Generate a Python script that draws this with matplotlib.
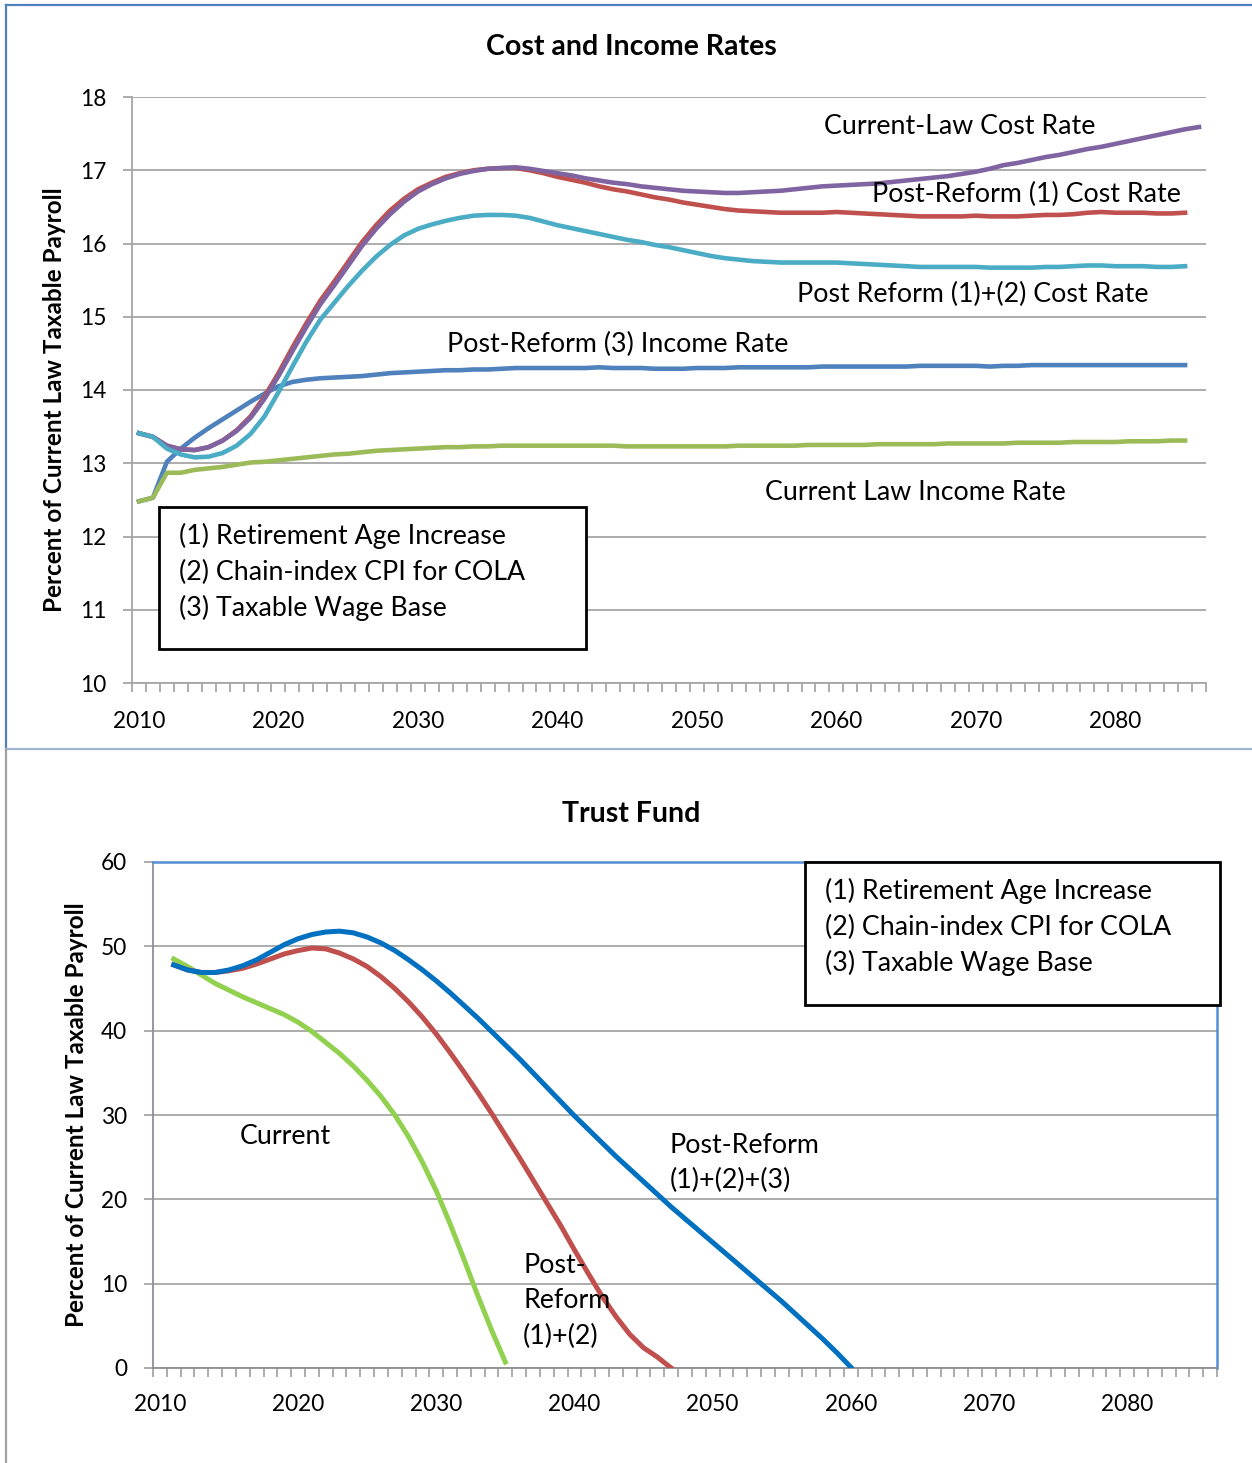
import matplotlib
matplotlib.use("Agg")
import matplotlib.pyplot as plt
from matplotlib.lines import Line2D
from matplotlib.patches import Rectangle

W, H = 1252, 1463
plt.rcParams["font.family"] = ["Lato", "DejaVu Sans"]

# ---- top chart: cost and income rates (percent of taxable payroll) ----
top_years = list(range(2010, 2087))
current_law_cost = [
    13.41, 13.36, 13.24, 13.19, 13.18, 13.22, 13.31, 13.44, 13.62, 13.88,
    14.19, 14.53, 14.86, 15.17, 15.43, 15.70, 15.97, 16.20, 16.40, 16.57,
    16.71, 16.81, 16.89, 16.95, 16.99, 17.02, 17.03, 17.04, 17.02, 16.99,
    16.96, 16.93, 16.89, 16.86, 16.83, 16.81, 16.78, 16.76, 16.74, 16.72,
    16.71, 16.70, 16.69, 16.69, 16.70, 16.71, 16.72, 16.74, 16.76, 16.78,
    16.79, 16.80, 16.81, 16.82, 16.84, 16.86, 16.88, 16.90, 16.92, 16.95,
    16.98, 17.02, 17.07, 17.10, 17.14, 17.18, 17.21, 17.25, 17.29, 17.32,
    17.36, 17.40, 17.44, 17.48, 17.52, 17.56, 17.59,
]
reform1_cost = [
    13.41, 13.36, 13.24, 13.19, 13.18, 13.22, 13.31, 13.45, 13.64, 13.91,
    14.23, 14.58, 14.91, 15.22, 15.48, 15.75, 16.02, 16.25, 16.45, 16.61,
    16.74, 16.83, 16.91, 16.96, 17.00, 17.02, 17.03, 17.03, 17.00, 16.96,
    16.91, 16.87, 16.83, 16.78, 16.74, 16.71, 16.67, 16.63, 16.60, 16.56,
    16.53, 16.50, 16.47, 16.45, 16.44, 16.43, 16.42, 16.42, 16.42, 16.42,
    16.43, 16.42, 16.41, 16.40, 16.39, 16.38, 16.37, 16.37, 16.37, 16.37,
    16.38, 16.37, 16.37, 16.37, 16.38, 16.39, 16.39, 16.40, 16.42, 16.43,
    16.42, 16.42, 16.42, 16.41, 16.41, 16.42,
]
reform12_cost = [
    13.41, 13.36, 13.20, 13.12, 13.08, 13.09, 13.14, 13.24, 13.40, 13.64,
    13.97, 14.32, 14.66, 14.96, 15.19, 15.42, 15.63, 15.82, 15.98, 16.11,
    16.20, 16.26, 16.31, 16.35, 16.38, 16.39, 16.39, 16.38, 16.35, 16.30,
    16.25, 16.21, 16.17, 16.13, 16.09, 16.05, 16.02, 15.98, 15.95, 15.91,
    15.87, 15.83, 15.80, 15.78, 15.76, 15.75, 15.74, 15.74, 15.74, 15.74,
    15.74, 15.73, 15.72, 15.71, 15.70, 15.69, 15.68, 15.68, 15.68, 15.68,
    15.68, 15.67, 15.67, 15.67, 15.67, 15.68, 15.68, 15.69, 15.70, 15.70,
    15.69, 15.69, 15.69, 15.68, 15.68, 15.69,
]
reform3_income = [
    12.48, 12.53, 13.02, 13.20, 13.35, 13.48, 13.60, 13.72, 13.84, 13.95,
    14.05, 14.11, 14.14, 14.16, 14.17, 14.18, 14.19, 14.21, 14.23, 14.24,
    14.25, 14.26, 14.27, 14.27, 14.28, 14.28, 14.29, 14.30, 14.30, 14.30,
    14.30, 14.30, 14.30, 14.31, 14.30, 14.30, 14.30, 14.29, 14.29, 14.29,
    14.30, 14.30, 14.30, 14.31, 14.31, 14.31, 14.31, 14.31, 14.31, 14.32,
    14.32, 14.32, 14.32, 14.32, 14.32, 14.32, 14.33, 14.33, 14.33, 14.33,
    14.33, 14.32, 14.33, 14.33, 14.34, 14.34, 14.34, 14.34, 14.34, 14.34,
    14.34, 14.34, 14.34, 14.34, 14.34, 14.34,
]
current_law_income = [
    12.48, 12.53, 12.87, 12.87, 12.91, 12.93, 12.95, 12.98, 13.01, 13.02,
    13.04, 13.06, 13.08, 13.10, 13.12, 13.13, 13.15, 13.17, 13.18, 13.19,
    13.20, 13.21, 13.22, 13.22, 13.23, 13.23, 13.24, 13.24, 13.24, 13.24,
    13.24, 13.24, 13.24, 13.24, 13.24, 13.23, 13.23, 13.23, 13.23, 13.23,
    13.23, 13.23, 13.23, 13.24, 13.24, 13.24, 13.24, 13.24, 13.25, 13.25,
    13.25, 13.25, 13.25, 13.26, 13.26, 13.26, 13.26, 13.26, 13.27, 13.27,
    13.27, 13.27, 13.27, 13.28, 13.28, 13.28, 13.28, 13.29, 13.29, 13.29,
    13.29, 13.30, 13.30, 13.30, 13.31, 13.31,
]

# ---- bottom chart: trust fund ratio, all series start in 2011 ----
fund_start = 2011
fund_current = [
    48.5, 47.6, 46.6, 45.6, 44.8, 44.0, 43.3, 42.6, 41.9, 41.0,
    39.9, 38.6, 37.3, 35.8, 34.1, 32.2, 30.0, 27.4, 24.4, 21.0,
    17.1, 12.9, 8.6, 4.5, 0.7,
]
fund_reform12 = [
    47.8, 47.2, 46.9, 46.9, 47.1, 47.4, 47.9, 48.5, 49.1, 49.5,
    49.8, 49.7, 49.2, 48.5, 47.6, 46.4, 45.0, 43.4, 41.6, 39.6,
    37.4, 35.1, 32.7, 30.2, 27.6, 25.0, 22.3, 19.6, 16.9, 14.0,
    11.2, 8.5, 6.1, 4.0, 2.4, 1.3, 0.0,
]
fund_reform123 = [
    47.8, 47.2, 46.9, 46.9, 47.2, 47.7, 48.4, 49.3, 50.2, 50.9,
    51.4, 51.7, 51.8, 51.6, 51.1, 50.4, 49.5, 48.4, 47.2, 45.9,
    44.5, 43.0, 41.5, 39.9, 38.3, 36.7, 35.0, 33.3, 31.6, 29.9,
    28.3, 26.7, 25.1, 23.6, 22.1, 20.6, 19.1, 17.7, 16.3, 14.9,
    13.5, 12.1, 10.7, 9.3, 7.9, 6.4, 4.9, 3.4, 1.8, 0.1,
]

key_lines = ["(1) Retirement Age Increase", "(2) Chain-index CPI for COLA", "(3) Taxable Wage Base"]
label_years = list(range(2010, 2081, 10))

GRID = "#a6a6a6"
AXIS = "#8c9099"
FS = 19.3      # annotation / key text
TICK_FS = 16.3


def fx(x):
    return x / W


def fy(y):
    return 1 - y / H


def axes_px(fig, left, top, right, bottom):
    return fig.add_axes([fx(left), fy(bottom), fx(right) - fx(left), fy(top) - fy(bottom)])


def style_axis(ax, ymin, ymax, ystep, xpad):
    ax.set_xlim(2009.5, 2086.5)
    ax.set_ylim(ymin, ymax)
    ax.set_yticks(range(ymin, ymax + 1, ystep))
    ax.set_xticks(label_years)
    ax.set_xticks([y + 0.5 for y in range(2009, 2087)], minor=True)
    ax.tick_params(axis="x", which="major", length=0, labelsize=TICK_FS, pad=xpad)
    ax.tick_params(axis="x", which="minor", length=6.5, width=1.3, color=GRID, direction="out")
    ax.tick_params(axis="y", length=6.5, width=1.3, color=GRID, labelsize=TICK_FS, pad=12)
    ax.grid(axis="y", color=GRID, lw=1.3)
    ax.set_axisbelow(True)
    for s in ("top", "right"):
        ax.spines[s].set_visible(False)
    ax.spines["left"].set_color(GRID)
    ax.spines["bottom"].set_color(GRID)
    ax.spines["left"].set_linewidth(1.3)
    ax.spines["bottom"].set_linewidth(1.3)


def key_box(fig, left, top, right, bottom, text_x, first_y):
    fig.add_artist(Rectangle((fx(left), fy(bottom)), fx(right) - fx(left), fy(top) - fy(bottom),
                             transform=fig.transFigure, facecolor="white", edgecolor="black",
                             lw=2, zorder=5))
    for i, line in enumerate(key_lines):
        fig.text(fx(text_x), fy(first_y + 36 * i), line, fontsize=FS, va="center", ha="left", zorder=6)


fig = plt.figure(figsize=(W / 100, H / 100), dpi=100)

# page frame lines
blue_frame = "#4f81bd"
fig.add_artist(Line2D([fx(6), fx(6)], [fy(5), fy(749)], color=blue_frame, lw=1.6))
fig.add_artist(Line2D([fx(6), fx(1252)], [fy(5), fy(5)], color=blue_frame, lw=1.6))
fig.add_artist(Line2D([fx(6), fx(1252)], [fy(749), fy(749)], color="#9fb4d0", lw=1.6))
fig.add_artist(Line2D([fx(6), fx(6)], [fy(750), fy(1463)], color="#a0a0a0", lw=1.6))

# top chart
ax1 = axes_px(fig, 132, 97, 1206, 683)
style_axis(ax1, 10, 18, 1, 20)
lw = 3.3
ax1.plot(top_years[:len(reform3_income)], reform3_income, color="#4f81bd", lw=lw, zorder=2)
ax1.plot(top_years[:len(current_law_income)], current_law_income, color="#9bbb59", lw=lw, zorder=2)
ax1.plot(top_years[:len(reform1_cost)], reform1_cost, color="#c0504d", lw=lw, zorder=3)
ax1.plot(top_years, current_law_cost, color="#8064a2", lw=lw, zorder=4)
ax1.plot(top_years[:len(reform12_cost)], reform12_cost, color="#4bacc6", lw=lw, zorder=5)

fig.text(fx(631), fy(47), "Cost and Income Rates", fontsize=20.5, fontweight="bold", ha="center", va="center")
fig.text(fx(55), fy(400), "Percent of Current Law Taxable Payroll", fontsize=17.5, fontweight="bold",
         rotation=90, ha="center", va="center")
for txt, x, y in [("Current-Law Cost Rate", 824, 126),
                  ("Post-Reform (1) Cost Rate", 872, 194),
                  ("Post Reform (1)+(2) Cost Rate", 797, 294),
                  ("Post-Reform (3) Income Rate", 447, 344),
                  ("Current Law Income Rate", 765, 493)]:
    fig.text(fx(x), fy(y), txt, fontsize=FS, ha="left", va="center", zorder=6)
key_box(fig, 159, 507, 586, 649, 179, 536)

# bottom chart
ax2 = axes_px(fig, 153, 862, 1217, 1368)
style_axis(ax2, 0, 60, 10, 18.5)
ax2.spines["left"].set_color(AXIS)
ax2.spines["bottom"].set_color(AXIS)
for s in ("top", "right"):
    ax2.spines[s].set_visible(True)
    ax2.spines[s].set_color("#558ed5")
    ax2.spines[s].set_linewidth(1.8)
lw2 = 3.6
ax2.plot(range(fund_start, fund_start + len(fund_current)), fund_current, color="#92d050", lw=lw2, zorder=2)
ax2.plot(range(fund_start, fund_start + len(fund_reform12)), fund_reform12, color="#c0504d", lw=lw2, zorder=3)
ax2.plot(range(fund_start, fund_start + len(fund_reform123)), fund_reform123, color="#0070c0", lw=lw2, zorder=4)

fig.text(fx(631), fy(814), "Trust Fund", fontsize=20.5, fontweight="bold", ha="center", va="center")
fig.text(fx(77), fy(1115), "Percent of Current Law Taxable Payroll", fontsize=17.5, fontweight="bold",
         rotation=90, ha="center", va="center")
fig.text(fx(240), fy(1137), "Current", fontsize=FS, ha="left", va="center")
fig.text(fx(670), fy(1163), "Post-Reform\n(1)+(2)+(3)", fontsize=FS, ha="left", va="center", linespacing=1.52)
fig.text(fx(523), fy(1301), "Post-\nReform\n(1)+(2)", fontsize=FS, ha="left", va="center", linespacing=1.52)
key_box(fig, 805, 862, 1220, 1005, 825, 891)

fig.savefig("out.png", dpi=100)
